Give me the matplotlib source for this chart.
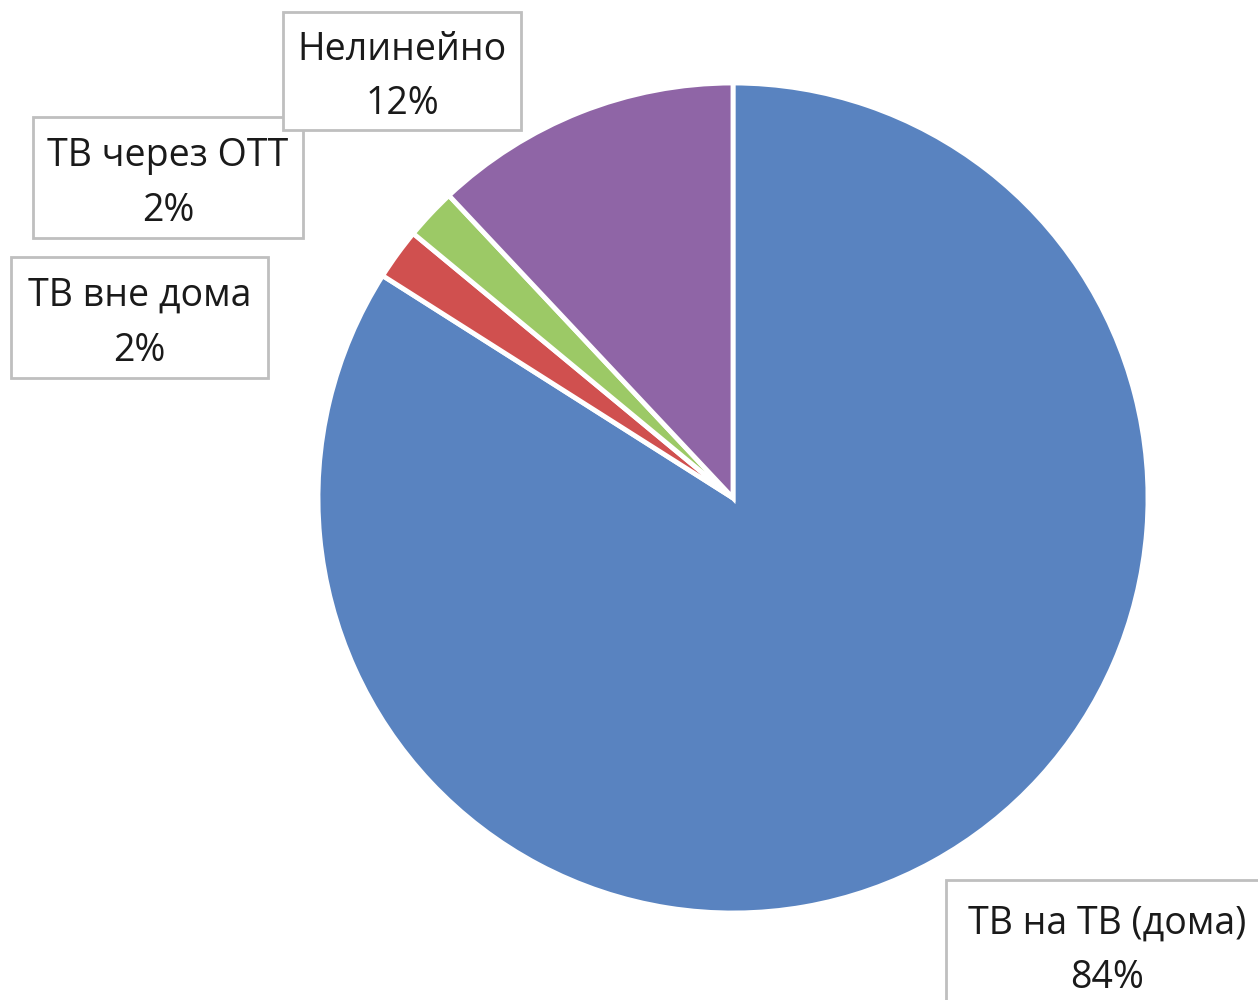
import matplotlib
matplotlib.use("Agg")
import matplotlib.pyplot as plt
from matplotlib.patches import Rectangle

categories = ["ТВ на ТВ (дома)", "ТВ вне дома", "ТВ через ОТТ", "Нелинейно"]
shares = [84, 2, 2, 12]
colors = ["#5983C0", "#D0504F", "#9CC966", "#8F65A6"]

W, H = 1258, 1000
fig = plt.figure(figsize=(W / 100, H / 100), dpi=100)
fig.patch.set_facecolor("white")

# pie: centre (733, 498) px, radius 415 px
cx, cy, r = 733, 498, 415
ax = fig.add_axes([(cx - r) / W, (H - cy - r) / H, 2 * r / W, 2 * r / H])
ax.pie(shares, colors=colors, startangle=90, counterclock=False,
       radius=1.0, wedgeprops=dict(edgecolor="white", linewidth=3.5))
ax.set_xlim(-1, 1)
ax.set_ylim(-1, 1)
ax.set_aspect("equal")
ax.axis("off")

# label boxes (left, top, right, bottom) in pixels from top-left
boxes = [
    (946, 880, 1268, 1010),
    (11, 257, 268, 378),
    (33, 117, 303, 238),
    (283, 12, 521, 130),
]

for name, val, (x0, y0, x1, y1) in zip(categories, shares, boxes):
    fig.patches.append(Rectangle((x0 / W, 1 - y1 / H), (x1 - x0) / W, (y1 - y0) / H,
                                 transform=fig.transFigure, facecolor="white",
                                 edgecolor="#BFBFBF", linewidth=2.0, zorder=3))
    fig.text((x0 + x1) / 2 / W, 1 - ((y0 + y1) / 2 + 6) / H, f"{name}\n{val}%",
             ha="center", va="center", fontsize=27, family="Open Sans",
             color="#1A1A1A", linespacing=1.58, zorder=4)

fig.savefig("out.png", dpi=100, facecolor="white")
